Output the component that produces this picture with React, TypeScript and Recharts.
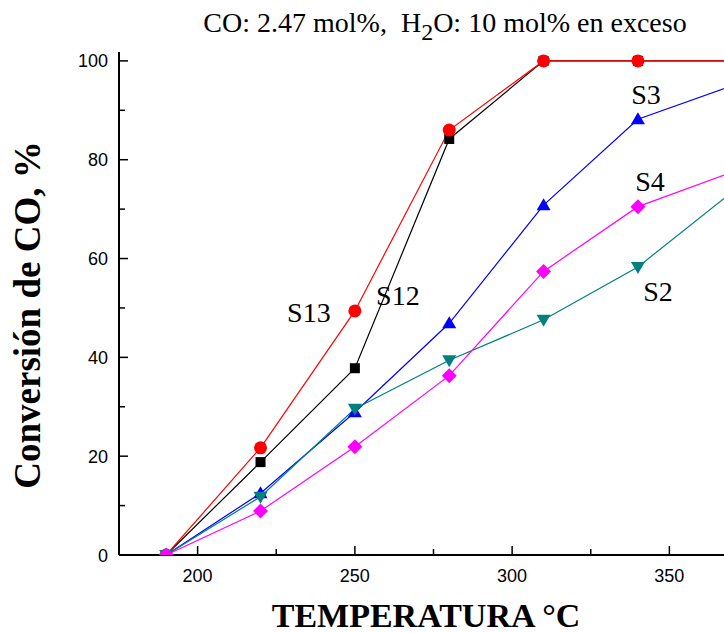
import { LineChart, Line, XAxis, YAxis, Label, LabelList } from "recharts";

// temperature (°C) and CO conversion (%) per catalyst
const TEMPS = [160, 190, 220, 250, 280, 310, 340, 370];
const S12 = [0, 0, 18.8, 37.8, 84.2, 100, 100, 100];
const S13 = [0, 0, 21.7, 49.4, 86, 100, 100, 100];
const S3 = [0, 0, 12.5, 28.9, 46.9, 70.8, 88.2, 95];
const S2 = [0, 0, 11.8, 29.6, 39.4, 47.6, 58.3, 73.5];
const S4 = [0, 0, 8.9, 21.9, 36.3, 57.4, 70.5, 77.5];

const X_TICKS = [175, 200, 225, 250, 275, 300, 325, 350, 375];
const Y_TICKS = [0, 10, 20, 30, 40, 50, 60, 70, 80, 90, 100];

const data = TEMPS.map((t, i) => ({
  t,
  s12: S12[i],
  s13: S13[i],
  s3: S3[i],
  s2: S2[i],
  s4: S4[i],
}));

const SERIF = "'Liberation Serif', 'Times New Roman', serif";
const SANS = "'Liberation Sans', Arial, sans-serif";

type Kind = "circle" | "square" | "up" | "down" | "diamond";

function Marker({ cx, cy, kind, color }: { cx: number; cy: number; kind: Kind; color: string }) {
  if (cx == null || cy == null) return null;
  if (kind === "circle") return <circle cx={cx} cy={cy} r={6.5} fill={color} />;
  if (kind === "square") return <rect x={cx - 5} y={cy - 5} width={10} height={10} fill={color} />;
  const pts =
    kind === "up"
      ? [[cx, cy - 7], [cx - 7, cy + 5], [cx + 7, cy + 5]]
      : kind === "down"
        ? [[cx - 7, cy - 5], [cx + 7, cy - 5], [cx, cy + 7]]
        : [[cx, cy - 7.5], [cx + 7.5, cy], [cx, cy + 7.5], [cx - 7.5, cy]];
  return <polygon points={pts.map((p) => p.join(",")).join(" ")} fill={color} />;
}

// series name tags, placed next to one of their points
const SERIES: { key: string; name: string; color: string; kind: Kind; at: number; dx: number; dy: number }[] = [
  { key: "s12", name: "S12", color: "#000000", kind: "square", at: 3, dx: 43, dy: -73 },
  { key: "s13", name: "S13", color: "#ff0000", kind: "circle", at: 3, dx: -46, dy: 1 },
  { key: "s3", name: "S3", color: "#0000ff", kind: "up", at: 6, dx: 8, dy: -25 },
  { key: "s2", name: "S2", color: "#008080", kind: "down", at: 6, dx: 20, dy: 24 },
  { key: "s4", name: "S4", color: "#ff00ff", kind: "diamond", at: 6, dx: 12, dy: -26 },
];

function BottomTick({ x, y, payload }: any) {
  const major = payload.value % 50 === 0;
  return (
    <g>
      <line x1={x} x2={x} y1={y} y2={y - (major ? 9 : 6)} stroke="#000" strokeWidth={1.5} />
      {major && payload.value !== 175 && payload.value !== 375 && (
        <text x={x} y={y + 27} textAnchor="middle" fontFamily={SANS} fontSize={18} fill="#000">
          {payload.value}
        </text>
      )}
    </g>
  );
}

function TopTick({ x, y, payload }: any) {
  const major = payload.value % 50 === 0;
  return <line x1={x} x2={x} y1={y} y2={y + (major ? 9 : 6)} stroke="#000" strokeWidth={1.5} />;
}

function LeftTick({ x, y, payload }: any) {
  const major = payload.value % 20 === 0;
  return (
    <g>
      <line x1={x} x2={x + (major ? 9 : 6)} y1={y} y2={y} stroke="#000" strokeWidth={1.5} />
      {major && (
        <text x={x - 11} y={y + 6.5} textAnchor="end" fontFamily={SANS} fontSize={18} fill="#000">
          {payload.value}
        </text>
      )}
    </g>
  );
}

export default function App() {
  return (
    <div
      style={{
        position: "fixed",
        left: 0,
        top: 0,
        width: 724,
        height: 633,
        overflow: "hidden",
        background: "#fff",
      }}
    >
      <svg width={724} height={50} style={{ position: "absolute", left: 0, top: 0 }}>
        <text x={445} y={32} textAnchor="middle" fontFamily={SERIF} fontSize={28} fill="#000">
          <tspan>{"CO: 2.47 mol%,\u00a0\u00a0H"}</tspan>
          <tspan fontSize={24} dy={8}>2</tspan>
          <tspan dy={-8}>O: 10 mol% en exceso</tspan>
        </text>
      </svg>
      <LineChart width={760} height={633} data={data} margin={{ top: 52, right: 12, bottom: 0, left: 0 }}>
        <XAxis
          dataKey="t"
          type="number"
          domain={[175, 375]}
          allowDataOverflow
          ticks={X_TICKS}
          interval={0}
          height={78}
          tickSize={0}
          tickMargin={0}
          tickLine={false}
          tick={<BottomTick />}
          axisLine={{ stroke: "#000", strokeWidth: 2 }}
        >
          <Label
            content={() => (
              <text x={426} y={627} textAnchor="middle" fontFamily={SERIF} fontWeight="bold" fontSize={34} fill="#000">
                TEMPERATURA °C
              </text>
            )}
          />
        </XAxis>
        <XAxis
          xAxisId="top"
          orientation="top"
          dataKey="t"
          type="number"
          domain={[175, 375]}
          allowDataOverflow
          ticks={X_TICKS}
          interval={0}
          height={0}
          tickSize={0}
          tickMargin={0}
          tickLine={false}
          tick={<TopTick />}
          axisLine={{ stroke: "#000", strokeWidth: 2 }}
        />
        <YAxis
          type="number"
          domain={[0, 101.8]}
          allowDataOverflow
          ticks={Y_TICKS}
          interval={0}
          width={119}
          tickSize={0}
          tickMargin={0}
          tickLine={false}
          tick={<LeftTick />}
          axisLine={{ stroke: "#000", strokeWidth: 2 }}
        >
          <Label
            content={() => (
              <text
                x={27}
                y={315}
                transform="rotate(-90 27 315)"
                textAnchor="middle"
                dominantBaseline="central"
                fontFamily={SERIF}
                fontWeight="bold"
                fontSize={37}
                fill="#000"
              >
                Conversión de CO, %
              </text>
            )}
          />
        </YAxis>
        {SERIES.map((s) => (
          <Line
            key={s.key}
            dataKey={s.key}
            stroke={s.color}
            strokeWidth={1.2}
            isAnimationActive={false}
            activeDot={false}
            dot={(p: any) => <Marker key={`${s.key}-${p.index}`} cx={p.cx} cy={p.cy} kind={s.kind} color={s.color} />}
          >
            <LabelList
              dataKey={s.key}
              content={(p: any) =>
                p.index === s.at ? (
                  <text
                    x={p.x + s.dx}
                    y={p.y + s.dy + 10}
                    textAnchor="middle"
                    fontFamily={SERIF}
                    fontSize={28}
                    fill="#000"
                  >
                    {s.name}
                  </text>
                ) : null
              }
            />
          </Line>
        ))}
      </LineChart>
    </div>
  );
}
